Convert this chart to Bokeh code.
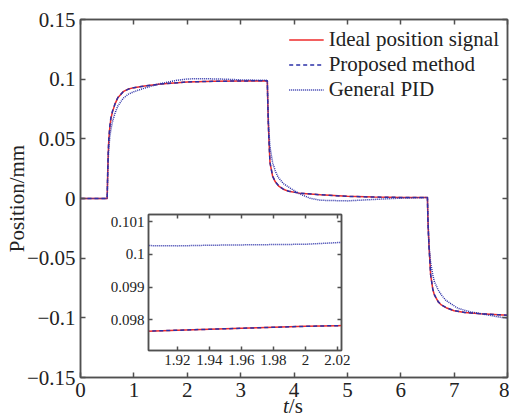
from bokeh.plotting import figure
from bokeh.models import (Range1d, LinearAxis, FixedTicker, CustomJSTickFormatter,
                          Legend, LegendItem, Div)
from bokeh.embed import file_html
from bokeh.resources import INLINE

# ---------------- data ----------------
t_ideal = [0, 0.5, 0.505, 0.51, 0.52, 0.53, 0.55, 0.57, 0.6, 0.65, 0.7, 0.8, 0.9, 1.0,
           1.2, 1.5, 2.0, 2.5, 3.0, 3.5, 3.505, 3.51, 3.52, 3.53, 3.55, 3.6, 3.65, 3.72,
           3.8, 3.9, 4.1, 4.5, 5.0, 5.5, 6.0, 6.5, 6.505, 6.51, 6.52, 6.53, 6.56, 6.6,
           6.63, 6.7, 6.76, 6.85, 7.0, 7.2, 7.5, 8.0]
ideal = [0, 0, 0.012, 0.022, 0.038, 0.049, 0.060, 0.067, 0.0728, 0.0795, 0.0845, 0.0895,
         0.0918, 0.0929, 0.0943, 0.0959, 0.0977, 0.0982, 0.0985, 0.0987, 0.088, 0.078,
         0.062, 0.050, 0.030, 0.0185, 0.0140, 0.0101, 0.0078, 0.0060, 0.0045, 0.0031,
         0.0018, 0.0012, 0.0009, 0.0008, -0.010, -0.019, -0.030, -0.040, -0.064, -0.076,
         -0.0808, -0.0865, -0.0892, -0.0915, -0.0940, -0.0955, -0.0966, -0.0978]
proposed = [0, 0, 0.013, 0.023, 0.039, 0.050, 0.061, 0.068, 0.0733, 0.0798, 0.0846, 0.0894,
            0.0917, 0.0929, 0.0943, 0.0959, 0.0977, 0.0982, 0.0985, 0.0987, 0.087, 0.077,
            0.061, 0.049, 0.030, 0.0187, 0.0141, 0.0102, 0.0079, 0.0061, 0.0045, 0.0031,
            0.0018, 0.0012, 0.0009, 0.0008, -0.011, -0.020, -0.031, -0.041, -0.064, -0.0758,
            -0.0806, -0.0864, -0.0891, -0.0915, -0.0940, -0.0955, -0.0966, -0.0978]

t_pid = [0, 0.5, 0.51, 0.52, 0.53, 0.55, 0.57, 0.6, 0.65, 0.7, 0.8, 0.9, 1.0, 1.2, 1.5,
         1.8, 2.0, 2.3, 2.7, 3.0, 3.5, 3.51, 3.52, 3.53, 3.55, 3.6, 3.65, 3.7, 3.8, 3.93,
         4.1, 4.3, 4.5, 5.0, 5.5, 6.0, 6.5, 6.51, 6.52, 6.53, 6.56, 6.6, 6.63, 6.7, 6.76,
         6.85, 7.07, 7.3, 7.5, 7.8, 8.0]
pid = [0, 0, 0.018, 0.033, 0.042, 0.052, 0.058, 0.0645, 0.0720, 0.0775, 0.0840, 0.0875,
       0.0895, 0.0925, 0.0963, 0.0990, 0.1002, 0.1004, 0.1000, 0.0994, 0.0990, 0.080,
       0.066, 0.056, 0.043, 0.030, 0.023, 0.018, 0.0125, 0.0087, 0.0040, 0.0002, -0.0015,
       -0.0020, -0.0008, 0.0003, 0.0008, -0.016, -0.030, -0.040, -0.054, -0.064, -0.0696,
       -0.0765, -0.0808, -0.0855, -0.0920, -0.0950, -0.0965, -0.0990, -0.1004]

# inset (zoomed) data
t_zoom = [1.90, 1.92, 1.94, 1.96, 1.98, 2.00, 2.02, 2.03]
ideal_zoom = [0.09765, 0.09768, 0.09771, 0.09774, 0.09777, 0.09780, 0.09782, 0.09783]
proposed_zoom = [0.09765, 0.09768, 0.09771, 0.09774, 0.09777, 0.09780, 0.09782, 0.09783]
pid_zoom = [0.10027, 0.10026, 0.10028, 0.10029, 0.10030, 0.10031, 0.10036, 0.10037]

x_ticks = [0, 1, 2, 3, 4, 5, 6, 7, 8]
y_ticks = [-0.15, -0.1, -0.05, 0, 0.05, 0.1, 0.15]
xz_ticks = [1.92, 1.94, 1.96, 1.98, 2.0, 2.02]
yz_ticks = [0.098, 0.099, 0.1, 0.101]

labels = ["Ideal position signal", "Proposed method", "General PID"]
y_title = "Position/mm"

# ---------------- styles ----------------
RED = "#ee2b2b"
BLUE = "#2b30a8"
AX = "#505050"
TXT = "#222222"
FONT = "Liberation Serif"
fmt = CustomJSTickFormatter(code="""
    if (Math.abs(tick) < 1e-12) return '0';
    const s = parseFloat(Math.abs(tick).toFixed(4)).toString();
    return (tick < 0 ? '\u2212' : '') + s;
""")
blank = CustomJSTickFormatter(code="return '';")


def style_axis(ax, ticks, show_labels=True, size="21px", tick_in=5):
    ax.ticker = FixedTicker(ticks=ticks)
    ax.axis_line_color = AX
    ax.axis_line_width = 1.5
    ax.major_tick_line_color = AX
    ax.major_tick_line_width = 1.5
    ax.major_tick_in = tick_in
    ax.major_tick_out = 0
    ax.minor_tick_line_color = None
    ax.major_label_text_font = FONT
    ax.major_label_text_color = TXT
    if show_labels:
        ax.formatter = fmt
        ax.major_label_text_font_size = size
        ax.major_label_standoff = 5
    else:
        ax.formatter = blank
        ax.major_label_text_font_size = "0px"
        ax.major_label_standoff = 0
        ax.axis_label_standoff = 0


# ---------------- main figure ----------------
p = figure(width=509, height=417, x_range=Range1d(0, 8), y_range=Range1d(-0.15, 0.15),
           output_backend="svg", toolbar_location=None,
           min_border_left=80, min_border_right=2, min_border_top=19, min_border_bottom=40)
p.xgrid.visible = False
p.ygrid.visible = False
p.outline_line_color = AX
p.outline_line_width = 1.5
p.background_fill_color = "white"

style_axis(p.xaxis[0], x_ticks)
style_axis(p.yaxis[0], y_ticks)
p.yaxis[0].major_label_standoff = 5
p.yaxis[0].axis_label = y_title
p.yaxis[0].axis_label_text_font = FONT
p.yaxis[0].axis_label_text_font_size = "21px"
p.yaxis[0].axis_label_text_font_style = "normal"
p.yaxis[0].axis_label_text_line_height = 0.9
p.yaxis[0].axis_label_standoff = -5
p.yaxis[0].axis_label_text_color = TXT

top_ax = LinearAxis()
style_axis(top_ax, x_ticks, show_labels=False)
p.add_layout(top_ax, "above")
right_ax = LinearAxis()
style_axis(right_ax, y_ticks, show_labels=False)
p.add_layout(right_ax, "right")

r1 = p.line(t_ideal, ideal, line_color=RED, line_width=1.5)
r2 = p.line(t_ideal, proposed, line_color=BLUE, line_width=1.5, line_dash="4 3")
r3 = p.line(t_pid, pid, line_color=BLUE, line_width=1.5, line_dash="1 1")

legend = Legend(items=[LegendItem(label=labels[0], renderers=[r1]),
                       LegendItem(label=labels[1], renderers=[r2]),
                       LegendItem(label=labels[2], renderers=[r3])],
                location="top_right")
legend.border_line_alpha = 0
legend.background_fill_alpha = 0
legend.label_text_font = FONT
legend.label_text_font_size = "21px"
legend.label_text_color = TXT
legend.label_text_line_height = 1.0
legend.glyph_width = 35
legend.glyph_height = 21
legend.label_height = 21
legend.label_standoff = 5
legend.spacing = -3
legend.padding = 0
legend.margin = 8
p.add_layout(legend)

# ---------------- inset figure (separate root, overlaid with a negative margin) ----------------
q = figure(width=253, height=171, x_range=Range1d(1.902, 2.0225),
           y_range=Range1d(0.09706, 0.10122), output_backend="svg", toolbar_location=None,
           min_border_left=48, min_border_right=12, min_border_top=10, min_border_bottom=25)
q.xgrid.visible = False
q.ygrid.visible = False
q.outline_line_color = AX
q.outline_line_width = 1.5
q.background_fill_color = "white"
q.border_fill_alpha = 0
style_axis(q.xaxis[0], xz_ticks, size="15px", tick_in=4)
style_axis(q.yaxis[0], yz_ticks, size="15px", tick_in=4)
q.xaxis[0].major_label_standoff = 4
q.yaxis[0].major_label_standoff = 4
qt = LinearAxis()
style_axis(qt, xz_ticks, show_labels=False, tick_in=4)
q.add_layout(qt, "above")
qr = LinearAxis()
style_axis(qr, yz_ticks, show_labels=False, tick_in=4)
q.add_layout(qr, "right")

q.line(t_zoom, ideal_zoom, line_color=RED, line_width=1.5)
q.line(t_zoom, proposed_zoom, line_color=BLUE, line_width=1.5, line_dash="4 3")
q.line(t_zoom, pid_zoom, line_color=BLUE, line_width=1.5, line_dash="1 1")
q.margin = (-213, 0, 0, 100)

# ---------------- x axis title: italic t and upright /s ----------------
xlab = Div(text=("<span style=\"font-family:'Liberation Serif';font-size:21px;"
                 "line-height:21px;color:#222222;white-space:nowrap\"><i>t</i>/s</span>"),
           width=30, height=20, margin=(21, 0, 0, 283))

open("out.html", "w").write(file_html([p, q, xlab], INLINE))
